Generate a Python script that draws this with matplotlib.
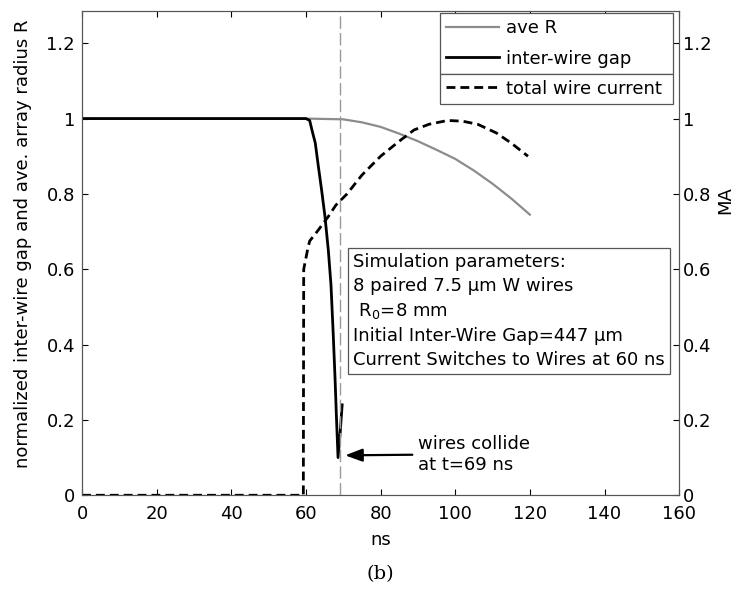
import matplotlib
matplotlib.use("Agg")
import matplotlib.pyplot as plt

plt.rcParams['font.family'] = ['DejaVu Sans']

# average array radius (normalized)
t_R = [0, 60, 70, 75, 80, 85, 90, 95, 100, 105, 110, 115, 120]
ave_R = [1, 1, 0.998, 0.99, 0.978, 0.96, 0.94, 0.917, 0.893, 0.862, 0.827, 0.788, 0.745]

# inter-wire gap (normalized)
t_gap = [0, 60, 61, 61.6, 62.5, 63.3, 64.2, 65.1, 66, 66.7, 67.3, 67.8, 68.2, 68.6, 69.2, 69.7]
gap = [1, 1, 0.995, 0.97, 0.935, 0.875, 0.81, 0.74, 0.65, 0.56, 0.43, 0.31, 0.2, 0.1, 0.17, 0.24]

# total wire current, MA
t_I = [0, 59.3, 59.4, 60.5, 61, 63, 66, 68, 71, 75, 80, 85, 89, 93, 98, 102, 106, 111, 115, 119.5]
cur = [0, 0, 0.6, 0.655, 0.675, 0.70, 0.74, 0.77, 0.80, 0.85, 0.90, 0.94, 0.97, 0.985, 0.995,
       0.993, 0.985, 0.962, 0.935, 0.90]

t_collide = 69
xticks = [0, 20, 40, 60, 80, 100, 120, 140, 160]
yticks = [0, 0.2, 0.4, 0.6, 0.8, 1, 1.2]
ytick_labels = ['0', '0.2', '0.4', '0.6', '0.8', '1', '1.2']

fs = 13
fig = plt.figure(figsize=(7.39, 5.91), dpi=100)
ax1 = fig.add_axes([0.111, 0.162, 0.808, 0.819])
ax2 = ax1.twinx()

l1, = ax1.plot(t_R, ave_R, color='#8c8c8c', lw=1.6, label='ave R')
l2, = ax1.plot(t_gap, gap, color='black', lw=2.0, label='inter-wire gap')
l3, = ax2.plot(t_I, cur, color='black', lw=2.0, ls=(0, (3.2, 1.8)), label='total wire current')
ax1.axvline(t_collide, color='#999999', lw=1.0, ls=(0, (9, 3)))

for ax in (ax1, ax2):
    ax.set_xlim(0, 160)
    ax.set_ylim(0, 1.285)
    ax.set_yticks(yticks)
    ax.set_yticklabels(ytick_labels)
    ax.tick_params(direction='in', labelsize=fs, length=4, width=0.8, pad=5)
    for s in ax.spines.values():
        s.set_color('#555555')
ax2.tick_params(axis='y', pad=3)
ax1.set_xticks(xticks)
ax1.tick_params(axis='x', top=True, pad=7)

ax1.set_xlabel('ns', fontsize=fs, labelpad=6)
ax1.set_ylabel('normalized inter-wire gap and ave. array radius R', fontsize=fs)
ax1.yaxis.set_label_coords(-0.084, 0.52)
ax2.set_ylabel('MA', fontsize=fs)
ax2.yaxis.set_label_coords(1.062, 0.61)

leg_kw = dict(fontsize=fs, frameon=True, fancybox=False, edgecolor='#555555',
              handlelength=2.9, handletextpad=0.4, borderpad=0.33, borderaxespad=0,
              framealpha=1, mode='expand')
leg1 = ax2.legend(handles=[l1, l2], loc='upper left', bbox_to_anchor=(0.60, 0.996, 0.39, 0.0),
                  labelspacing=0.7, **leg_kw)
leg1.get_frame().set_linewidth(0.9)
ax2.add_artist(leg1)
fig.canvas.draw()
bb = leg1.get_window_extent().transformed(ax2.transAxes.inverted())
leg2 = ax2.legend(handles=[l3], loc='upper left', bbox_to_anchor=(0.60, bb.y0, 0.39, 0.0),
                  **leg_kw)
leg2.get_frame().set_linewidth(0.9)

params = ('Simulation parameters:\n'
          '8 paired 7.5 \u03bcm W wires\n'
          ' R$_0$=8 mm\n'
          'Initial Inter-Wire Gap=447 \u03bcm\n'
          'Current Switches to Wires at 60 ns')
ax2.text(72.6, 0.643, params, transform=ax1.transData, fontsize=fs, va='top', ha='left',
         linespacing=1.42,
         bbox=dict(boxstyle='square,pad=0.3', fc='white', ec='#555555', lw=0.9))

ax2.annotate('wires collide\nat t=69 ns', xy=(70.5, 0.106), xytext=(90, 0.109),
             fontsize=fs, va='center', ha='left',
             arrowprops=dict(arrowstyle='-|>,head_length=0.8,head_width=0.3',
                             color='black', lw=1.6, shrinkA=2, shrinkB=0))

fig.text(0.515, 0.029, '(b)', fontsize=14, ha='center', va='center', family='DejaVu Serif')

fig.savefig('out.png', dpi=100)
